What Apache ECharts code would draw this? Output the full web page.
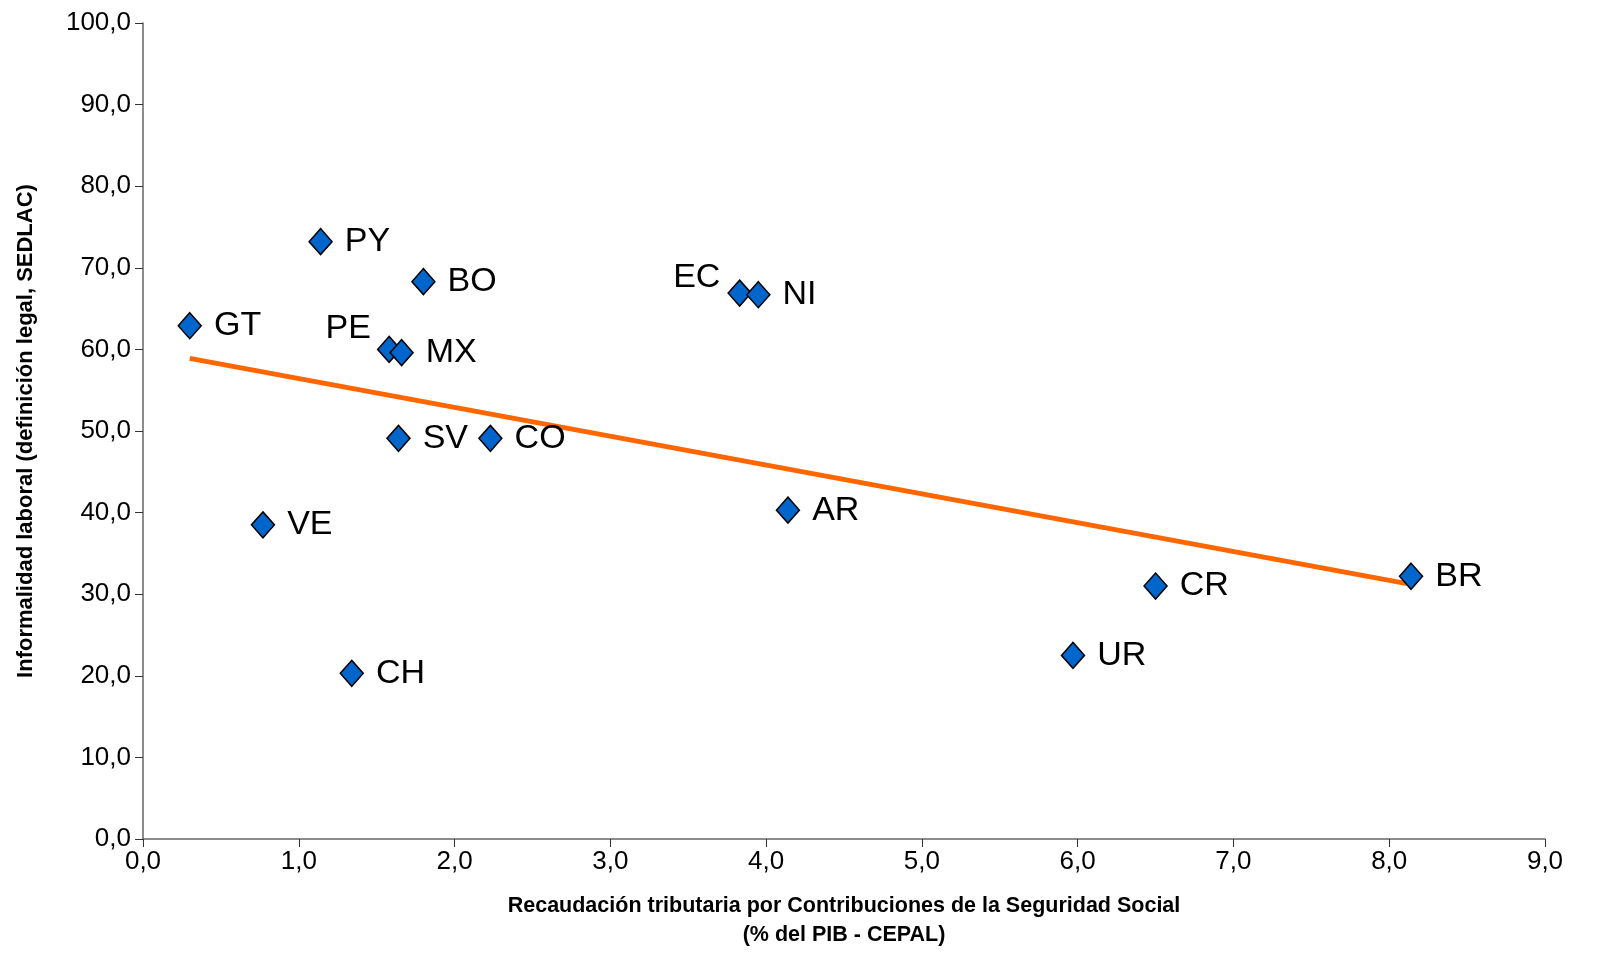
<!DOCTYPE html>
<html>
<head>
<meta charset="utf-8">
<script src="https://cdn.jsdelivr.net/npm/echarts@6/dist/echarts.min.js"></script>
<style>
html,body{margin:0;padding:0;background:#fff;}
#chart{width:1610px;height:972px;}
</style>
</head>
<body>
<div id="chart"></div>
<script>
const countries = ['GT','PY','BO','PE','MX','SV','CO','VE','CH','EC','NI','AR','CR','UR','BR'];
const socialSecurity = [0.30,1.14,1.80,1.58,1.66,1.64,2.23,0.77,1.34,3.83,3.95,4.14,6.50,5.97,8.14];
const informality = [62.9,73.2,68.3,60.0,59.6,49.1,49.1,38.5,20.3,66.9,66.7,40.3,31.0,22.5,32.2];
const trendX = [0.30, 8.14];
const trendY = [58.9, 31.2];
const xTicks = [0,1,2,3,4,5,6,7,8,9];
const yTicks = [0,10,20,30,40,50,60,70,80,90,100];

const FONT = '"Liberation Sans", Arial, sans-serif';
const labelLeftUp = {PE:[6,-21], EC:[5,-15]};

const points = countries.map((c,i)=>{
  const d = {value:[socialSecurity[i], informality[i]], name:c};
  if (labelLeftUp[c]) {
    d.label = {position:'left', offset: labelLeftUp[c]};
  }
  return d;
});

const chart = echarts.init(document.getElementById('chart'));
chart.setOption({
  animation:false,
  backgroundColor:'#fff',
  grid:{left:143, right:65, top:23, bottom:133},
  xAxis:{
    type:'value', min:xTicks[0], max:xTicks[xTicks.length-1], interval:1,
    name:'Recaudación tributaria por Contribuciones de la Seguridad Social\n(% del PIB - CEPAL)',
    nameLocation:'middle', nameGap:53,
    nameTextStyle:{fontFamily:FONT, fontWeight:'bold', fontSize:21.5, color:'#000', lineHeight:29},
    axisLine:{lineStyle:{color:'#666', width:1.5}},
    axisTick:{show:true, length:8, lineStyle:{color:'#333'}},
    axisLabel:{fontFamily:FONT, fontSize:26, color:'#000', margin:10, formatter:v=>v.toFixed(1).replace('.',',')},
    splitLine:{show:false}
  },
  yAxis:{
    type:'value', min:yTicks[0], max:yTicks[yTicks.length-1], interval:10,
    name:'Informalidad laboral (definición legal, SEDLAC)',
    nameLocation:'middle', nameGap:106,
    nameTextStyle:{fontFamily:FONT, fontWeight:'bold', fontSize:22, color:'#000'},
    axisLine:{show:true, lineStyle:{color:'#666', width:1.5}},
    axisTick:{show:true, length:8, lineStyle:{color:'#333'}},
    axisLabel:{fontFamily:FONT, fontSize:26, color:'#000', margin:12, formatter:v=>v.toFixed(1).replace('.',',')},
    splitLine:{show:false}
  },
  series:[
    {
      type:'line',
      data: trendX.map((x,i)=>[x, trendY[i]]),
      symbol:'none',
      lineStyle:{color:'#FF6600', width:5},
      z:2
    },
    {
      type:'scatter',
      data: points,
      symbol:'diamond',
      symbolSize:[23,26],
      itemStyle:{color:'#0066CC', borderColor:'#000', borderWidth:1.5, opacity:1},
      label:{show:true, position:'right', distance:12, formatter:p=>p.name,
        fontFamily:FONT, fontSize:34, color:'#000'},
      z:3
    }
  ]
});
</script>
</body>
</html>
